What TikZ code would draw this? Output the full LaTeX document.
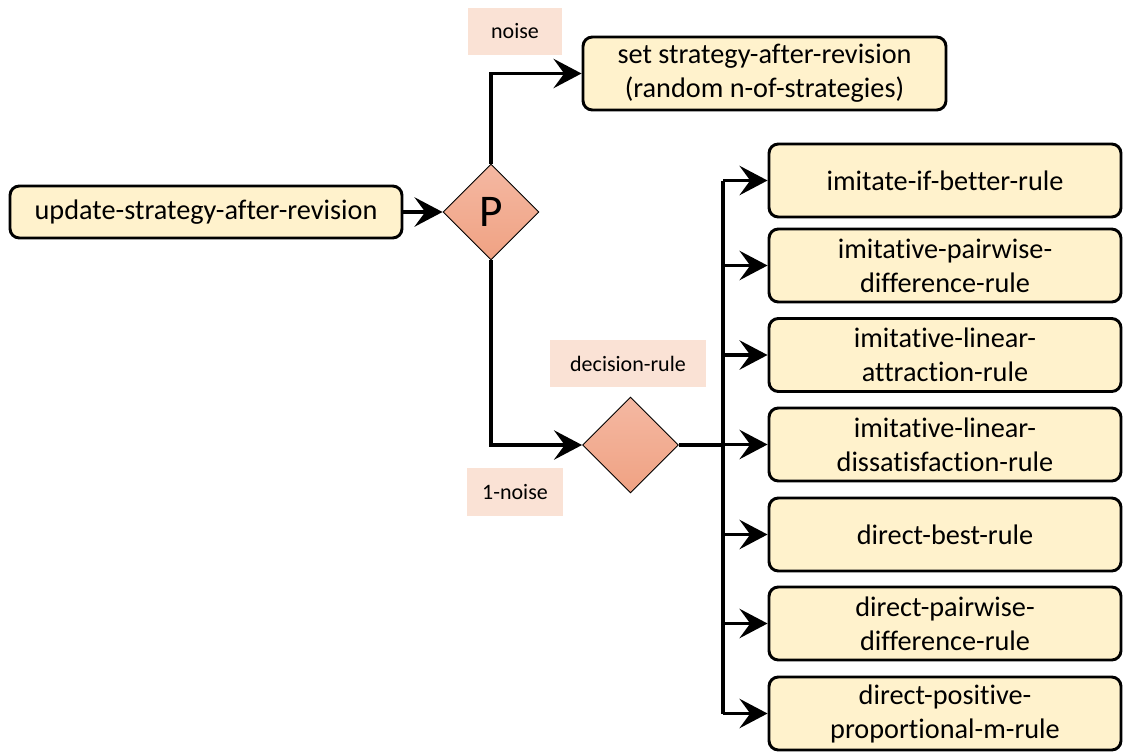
\documentclass[tikz,border=0pt]{standalone}
\usepackage{fontspec}
\setmainfont{Carlito}[Ligatures=NoCommon]
\usetikzlibrary{shapes.geometric,arrows.meta}
\definecolor{boxfill}{HTML}{FFF2CC}
\definecolor{labfill}{HTML}{FAE2D5}
\definecolor{diatop}{HTML}{F4B8A2}
\definecolor{diabot}{HTML}{F0A283}
\tikzset{
  x=0.75pt, y=-0.75pt,
  rbox/.style={draw=black, line width=2.2pt, rounded corners=7pt, fill=boxfill, align=center,
    font=\fontsize{21.2}{25.5}\selectfont, inner sep=0pt},
  labbox/.style={fill=labfill, inner sep=0pt, font=\fontsize{16.5}{20}\selectfont},
  dia/.style={diamond, draw=black, line width=0.7pt, top color=diatop, bottom color=diabot,
    minimum width=96*0.75pt, minimum height=96*0.75pt, inner sep=0pt, font=\fontsize{34}{40}\selectfont},
  conn/.style={line width=2.9pt, draw=black},
  arr/.style={conn, -{Stealth[length=21pt, width=22pt, inset=8pt]}},
}
\begin{document}
\begin{tikzpicture}
\useasboundingbox (0,0) rectangle (1123,751);
\node[rbox, minimum width=392*0.75pt, minimum height=52*0.75pt] (L) at (206,212) {update-strategy-after-revision};
\node[dia] (P) at (491,212) {P};
\node[rbox, minimum width=363*0.75pt, minimum height=73*0.75pt] (T) at (764.5,73.5) {set strategy-after-revision\\(random n-of-strategies)};
\node[dia] (D) at (630.5,445) {};
\node[labbox, minimum width=94*0.75pt, minimum height=47*0.75pt] (ln) at (515,31.5) {noise};
\node[labbox, minimum width=156*0.75pt, minimum height=47*0.75pt] (ld) at (628,363.5) {decision-rule};
\node[labbox, minimum width=96*0.75pt, minimum height=48*0.75pt] (l1) at (515,492) {1-noise};
\foreach \n/\y/\t in {R1/180.5/{imitate-if-better-rule},
  R2/265.5/{imitative-pairwise-\\difference-rule},
  R3/355/{imitative-linear-\\attraction-rule},
  R4/444.5/{imitative-linear-\\dissatisfaction-rule},
  R5/534.5/{direct-best-rule},
  R6/623.5/{direct-pairwise-\\difference-rule},
  R7/713.5/{direct-positive-\\proportional-m-rule}}
  \node[rbox, minimum width=352*0.75pt, minimum height=73*0.75pt] (\n) at (945,\y) {\t};
\coordinate (bt) at (723,180.5);
\coordinate (bb) at (723,713.5);
\draw[arr] (L.east) -- (P.west);
\draw[arr] (P.north) |- (T.west);
\draw[arr] (P.south) |- (D.west);
\draw[conn] (D.east) -- (D.east -| bt);
\draw[conn] (bt) -- (bb);
\foreach \n in {R1,R2,R3,R4,R5,R6,R7}
  \draw[arr] (\n.west -| bt) -- (\n.west);
\end{tikzpicture}
\end{document}
